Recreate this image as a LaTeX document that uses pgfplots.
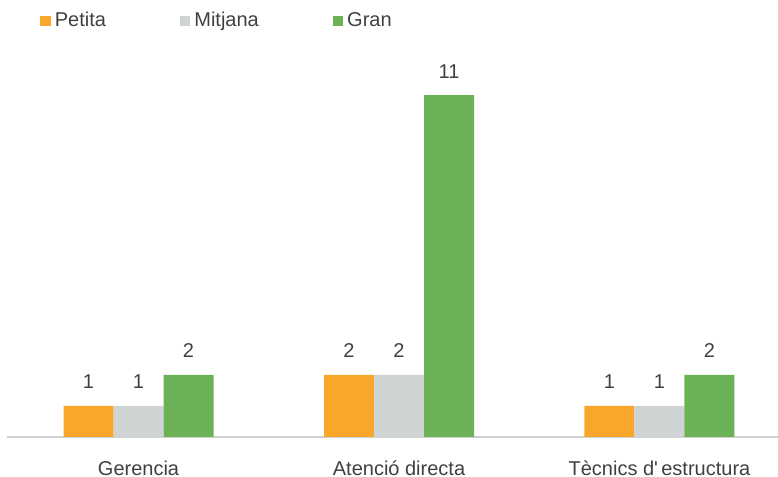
\documentclass[border=0pt]{standalone}
\usepackage{fontspec}
\setmainfont{Liberation Sans}
\newfontfamily\plainfont{Liberation Sans}
\usepackage{pgfplots}
\pgfplotsset{compat=1.18}
\definecolor{cPet}{HTML}{F9A72B}
\definecolor{cMit}{HTML}{D0D3D4}
\definecolor{cGran}{HTML}{6AB255}
\definecolor{txt}{HTML}{404040}
\definecolor{axl}{HTML}{D0D0D0}
\begin{document}
\fontsize{10}{12}\selectfont
\begin{tikzpicture}[x=0.5pt,y=0.5pt]
\useasboundingbox (0,0) rectangle (778,477);
\begin{axis}[
  at={(3.5pt,20pt)}, anchor=south west,
  scale only axis,
  width=385.5pt, height=186.5pt,
  ybar=0pt, bar width=25pt,
  xmin=-0.505, xmax=2.455,
  ymin=0, ymax=12,
  axis x line*=bottom,
  axis y line=none,
  x axis line style={draw=axl, line width=1pt, -},
  xtick={0,1,2},
  xticklabels={Gerencia, Atenció directa, {Tècnics d{\plainfont'}\,estructura}},
  major tick length=0pt,
  xticklabel style={text=txt, font=\fontsize{10}{12}\selectfont, yshift=-8.5pt},
  nodes near coords,
  every node near coord/.append style={text=txt, font=\fontsize{10}{12}\selectfont, yshift=5pt},
  /pgf/number format/assume math mode=true,
  legend columns=3,
  legend style={at={(axis description cs:0.0428,1.115)}, anchor=west, draw=none, fill=none, inner sep=0pt,
    font=\fontsize{10}{12}\selectfont, text=txt,
    /tikz/every even column/.append style={column sep=35pt},
    /tikz/every odd column/.append style={column sep=0pt}},
  legend image code/.code={\fill[#1] (-1pt,-2.6pt) rectangle (4.2pt,2.6pt);},
]
\addplot[fill=cPet, draw=none] coordinates {(0,1) (1,2) (2,1)};
\addplot[fill=cMit, draw=none] coordinates {(0,1) (1,2) (2,1)};
\addplot[fill=cGran, draw=none] coordinates {(0,2) (1,11) (2,2)};
\legend{Petita, Mitjana, Gran}
\end{axis}
\end{tikzpicture}
\end{document}
